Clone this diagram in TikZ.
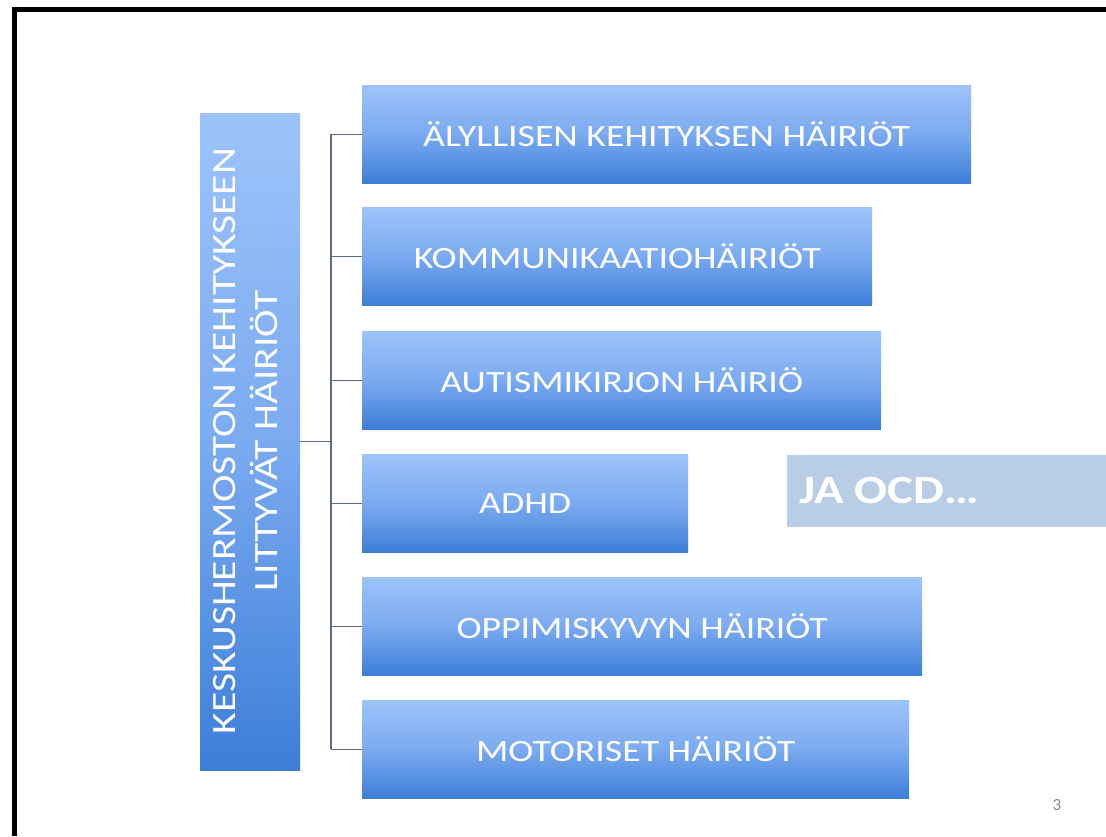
\documentclass[tikz,border=0pt]{standalone}
\usepackage{fontspec}
\setmainfont{Carlito}
\newfontfamily\slidefont[FakeStretch=1.22]{Carlito}
\newfontfamily\pagefont{Carlito}
\definecolor{topblue}{HTML}{9DC3FA}
\definecolor{midblue}{HTML}{7BAAF0}
\definecolor{botblue}{HTML}{3D7ED8}
\definecolor{ocdblue}{HTML}{B9CDE5}
\definecolor{connline}{HTML}{5E6C82}
\definecolor{pagegray}{HTML}{8A8A8A}
\begin{document}
\begin{tikzpicture}[x=1pt,y=-1pt,
  bluebox/.style={rectangle, inner sep=0pt, anchor=north west,
    top color=topblue, bottom color=botblue, middle color=midblue,
    text=white, font=\slidefont\fontsize{31}{36}\selectfont, minimum height=98pt},
  conn/.style={draw=connline, line width=1.2pt},
  framebar/.style={draw=black, line width=5pt, line join=miter}
]
\useasboundingbox (0,0) rectangle (1106,836);
\fill[white] (0,0) rectangle (1106,836);
\draw[framebar] (14.5,836) -- (14.5,9.5) -- (1106,9.5);

% left vertical box
\node[rectangle, inner sep=0pt, anchor=north west, top color=topblue, bottom color=botblue, middle color=midblue,
  minimum width=100pt, minimum height=657pt] (L) at (200,113) {};
\node[rotate=90, text=white, font=\slidefont\fontsize{34}{42}\selectfont, align=center] (Ltext) at (246,441)
  {KESKUSHERMOSTON KEHITYKSEEN\\LITTYVÄT HÄIRIÖT};

% right boxes
\node[bluebox, minimum width=609pt] (b1) at (362,85) {ÄLYLLISEN KEHITYKSEN HÄIRIÖT};
\node[bluebox, minimum width=510pt] (b2) at (362,207) {KOMMUNIKAATIOHÄIRIÖT};
\node[bluebox, minimum width=519pt] (b3) at (362,331) {AUTISMIKIRJON HÄIRIÖ};
\node[bluebox, minimum width=326pt, text width=316pt, align=center] (b4) at (362,454) {ADHD};
\node[bluebox, minimum width=560pt] (b5) at (362,577) {OPPIMISKYVYN HÄIRIÖT};
\node[bluebox, minimum width=547pt] (b6) at (362,700) {MOTORISET HÄIRIÖT};

% JA OCD box
\node[rectangle, inner sep=0pt, anchor=north west, fill=ocdblue, minimum width=320pt, minimum height=72pt] (ocd) at (787,455) {};
\node[anchor=west, text=white, inner sep=0pt, font=\slidefont\bfseries\fontsize{40}{46}\selectfont] (ocdtext) at (799,491) {JA OCD…};

% connectors
\coordinate (trunk) at (331,0);
\draw[conn] (L.east) -- (L.east -| trunk);
\draw[conn] (b1.west -| trunk) -- (b6.west -| trunk);
\foreach \b in {b1,b2,b3,b4,b5,b6} {
  \draw[conn] (\b.west -| trunk) -- (\b.west);
}

% page number
\node[text=pagegray, font=\pagefont\fontsize{17}{20}\selectfont] (page) at (1057,805) {3};
\end{tikzpicture}
\end{document}
